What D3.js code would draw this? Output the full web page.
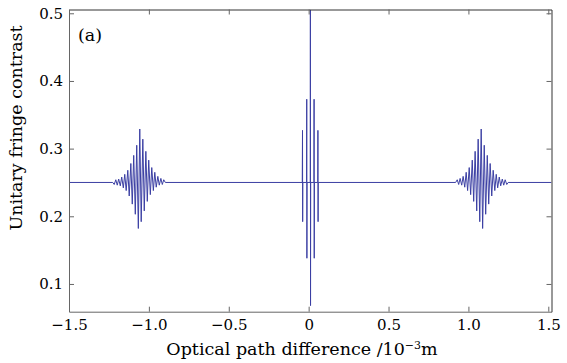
<!DOCTYPE html>
<html>
<head>
<meta charset="utf-8">
<script src="https://cdn.jsdelivr.net/npm/d3@7"></script>
<style>
  body { margin: 0; background: #fff; }
  text { font-family: "DejaVu Serif", serif; fill: #000; }
</style>
</head>
<body>
<div id="container"></div>
<script>
/* CONSTANTS AND GLOBALS */
const width = 567,
  height = 363,
  margin = { top: 9.5, bottom: 51.3, left: 69, right: 15.5 };

/* DATA */
// flat part of the trace at the two ends
const edgeX = [-1.5, 1.52];
const baseline = 0.25;

// packet around -1.06
const leftX = [-1.226, -1.217, -1.207, -1.198, -1.189, -1.179, -1.170, -1.160, -1.151, -1.142,
  -1.132, -1.123, -1.113, -1.104, -1.095, -1.085, -1.076, -1.066, -1.057, -1.048,
  -1.038, -1.029, -1.019, -1.010, -1.001, -0.991, -0.982, -0.972, -0.963, -0.954,
  -0.944, -0.935, -0.925, -0.916, -0.907, -0.897];
const leftY = [0.250, 0.247, 0.254, 0.246, 0.255, 0.245, 0.258, 0.242, 0.262, 0.238,
  0.268, 0.230, 0.278, 0.218, 0.290, 0.203, 0.305, 0.182, 0.329, 0.192,
  0.314, 0.208, 0.296, 0.222, 0.283, 0.232, 0.272, 0.238, 0.265, 0.243,
  0.259, 0.246, 0.256, 0.247, 0.254, 0.250];

// central packet (thin spikes)
const centerX = [-0.040, -0.0385, -0.0375, -0.0365, -0.013, -0.012, -0.011, -0.010,
  0.010, 0.0108, 0.0118, 0.0128, 0.033, 0.034, 0.035, 0.036,
  0.057, 0.058, 0.059, 0.060];
const centerY = [0.250, 0.327, 0.192, 0.250, 0.250, 0.373, 0.138, 0.250,
  0.250, 0.505, 0.068, 0.250, 0.250, 0.373, 0.138, 0.250,
  0.250, 0.327, 0.192, 0.250];

// packet around +1.08
const rightX = [0.920, 0.930, 0.939, 0.948, 0.958, 0.967, 0.977, 0.986, 0.995, 1.005,
  1.014, 1.024, 1.033, 1.042, 1.052, 1.061, 1.071, 1.080, 1.089, 1.099,
  1.108, 1.118, 1.127, 1.136, 1.146, 1.155, 1.165, 1.174, 1.183, 1.193,
  1.202, 1.212, 1.221, 1.230, 1.240, 1.249];
const rightY = [0.250, 0.254, 0.247, 0.256, 0.246, 0.259, 0.243, 0.265, 0.238, 0.272,
  0.232, 0.283, 0.222, 0.296, 0.208, 0.314, 0.192, 0.329, 0.182, 0.305,
  0.203, 0.290, 0.218, 0.278, 0.230, 0.268, 0.238, 0.262, 0.242, 0.258,
  0.245, 0.255, 0.246, 0.254, 0.247, 0.250];

const xTicks = [-1.5, -1.0, -0.5, 0, 0.5, 1.0, 1.5];
const xTickLabels = ["\u22121.5", "\u22121.0", "\u22120.5", "0", "0.5", "1.0", "1.5"];
const yTicks = [0.1, 0.2, 0.3, 0.4, 0.5];
const yTickLabels = ["0.1", "0.2", "0.3", "0.4", "0.5"];

// one point list for the line
const points = [[edgeX[0], baseline]]
  .concat(leftX.map((x, i) => [x, leftY[i]]))
  .concat(centerX.map((x, i) => [x, centerY[i]]))
  .concat(rightX.map((x, i) => [x, rightY[i]]))
  .concat([[edgeX[1], baseline]]);

/* SCALES */
const xScale = d3.scaleLinear()
  .domain([-1.5, 1.52])
  .range([margin.left, width - margin.right]);

const yScale = d3.scaleLinear()
  .domain([0.059, 0.5056])
  .range([height - margin.bottom, margin.top]);

/* HTML ELEMENTS */
const svg = d3.select("#container")
  .append("svg")
  .attr("width", width)
  .attr("height", height);

svg.append("clipPath").attr("id", "clip")
  .append("rect")
  .attr("x", margin.left)
  .attr("y", margin.top)
  .attr("width", width - margin.right - margin.left)
  .attr("height", height - margin.bottom - margin.top);

// trace
const line = d3.line()
  .x(d => xScale(d[0]))
  .y(d => yScale(d[1]));

svg.append("path")
  .datum(points)
  .attr("clip-path", "url(#clip)")
  .attr("fill", "none")
  .attr("stroke", "#3b3fa3")
  .attr("stroke-width", 1)
  .attr("d", line);

// axes, ticks pointing inwards
const axisColor = "#666";
const fmtX = (d, i) => xTickLabels[i];
const fmtY = (d, i) => yTickLabels[i];

const gx = svg.append("g")
  .attr("transform", `translate(0, ${height - margin.bottom})`)
  .call(d3.axisBottom(xScale).tickValues(xTicks).tickFormat(fmtX)
    .tickSizeInner(-5).tickSizeOuter(0).tickPadding(8));

const gy = svg.append("g")
  .attr("transform", `translate(${margin.left}, 0)`)
  .call(d3.axisLeft(yScale).tickValues(yTicks).tickFormat(fmtY)
    .tickSizeInner(-5).tickSizeOuter(0).tickPadding(6));

const gTop = svg.append("g")
  .attr("transform", `translate(0, ${margin.top})`)
  .call(d3.axisTop(xScale).tickValues(xTicks).tickFormat("")
    .tickSizeInner(-5).tickSizeOuter(0));

const gRight = svg.append("g")
  .attr("transform", `translate(${width - margin.right}, 0)`)
  .call(d3.axisRight(yScale).tickValues(yTicks).tickFormat("")
    .tickSizeInner(-5).tickSizeOuter(0));

[gx, gy, gTop, gRight].forEach(g => {
  g.select(".domain").attr("stroke", axisColor);
  g.selectAll(".tick line").attr("stroke", axisColor);
  g.selectAll(".tick text")
    .attr("font-family", "DejaVu Serif")
    .attr("font-size", 15)
    .attr("fill", "#000");
});
gTop.select(".domain").attr("stroke", "#333");
gRight.select(".domain").attr("stroke", "#333");

// axis titles
const xTitle = svg.append("text")
  .attr("x", 302)
  .attr("y", 355)
  .attr("text-anchor", "middle")
  .attr("font-size", 17.5);
xTitle.append("tspan").text("Optical path difference /10");
xTitle.append("tspan").attr("dy", -6).attr("font-size", 11).text("\u22123");
xTitle.append("tspan").attr("dy", 6).text("m");

svg.append("text")
  .attr("transform", "translate(22, 128) rotate(-90)")
  .attr("text-anchor", "middle")
  .attr("font-size", 17.5)
  .text("Unitary fringe contrast");

// panel label
svg.append("text")
  .attr("x", 78)
  .attr("y", 41)
  .attr("font-size", 17.5)
  .text("(a)");
</script>
</body>
</html>
